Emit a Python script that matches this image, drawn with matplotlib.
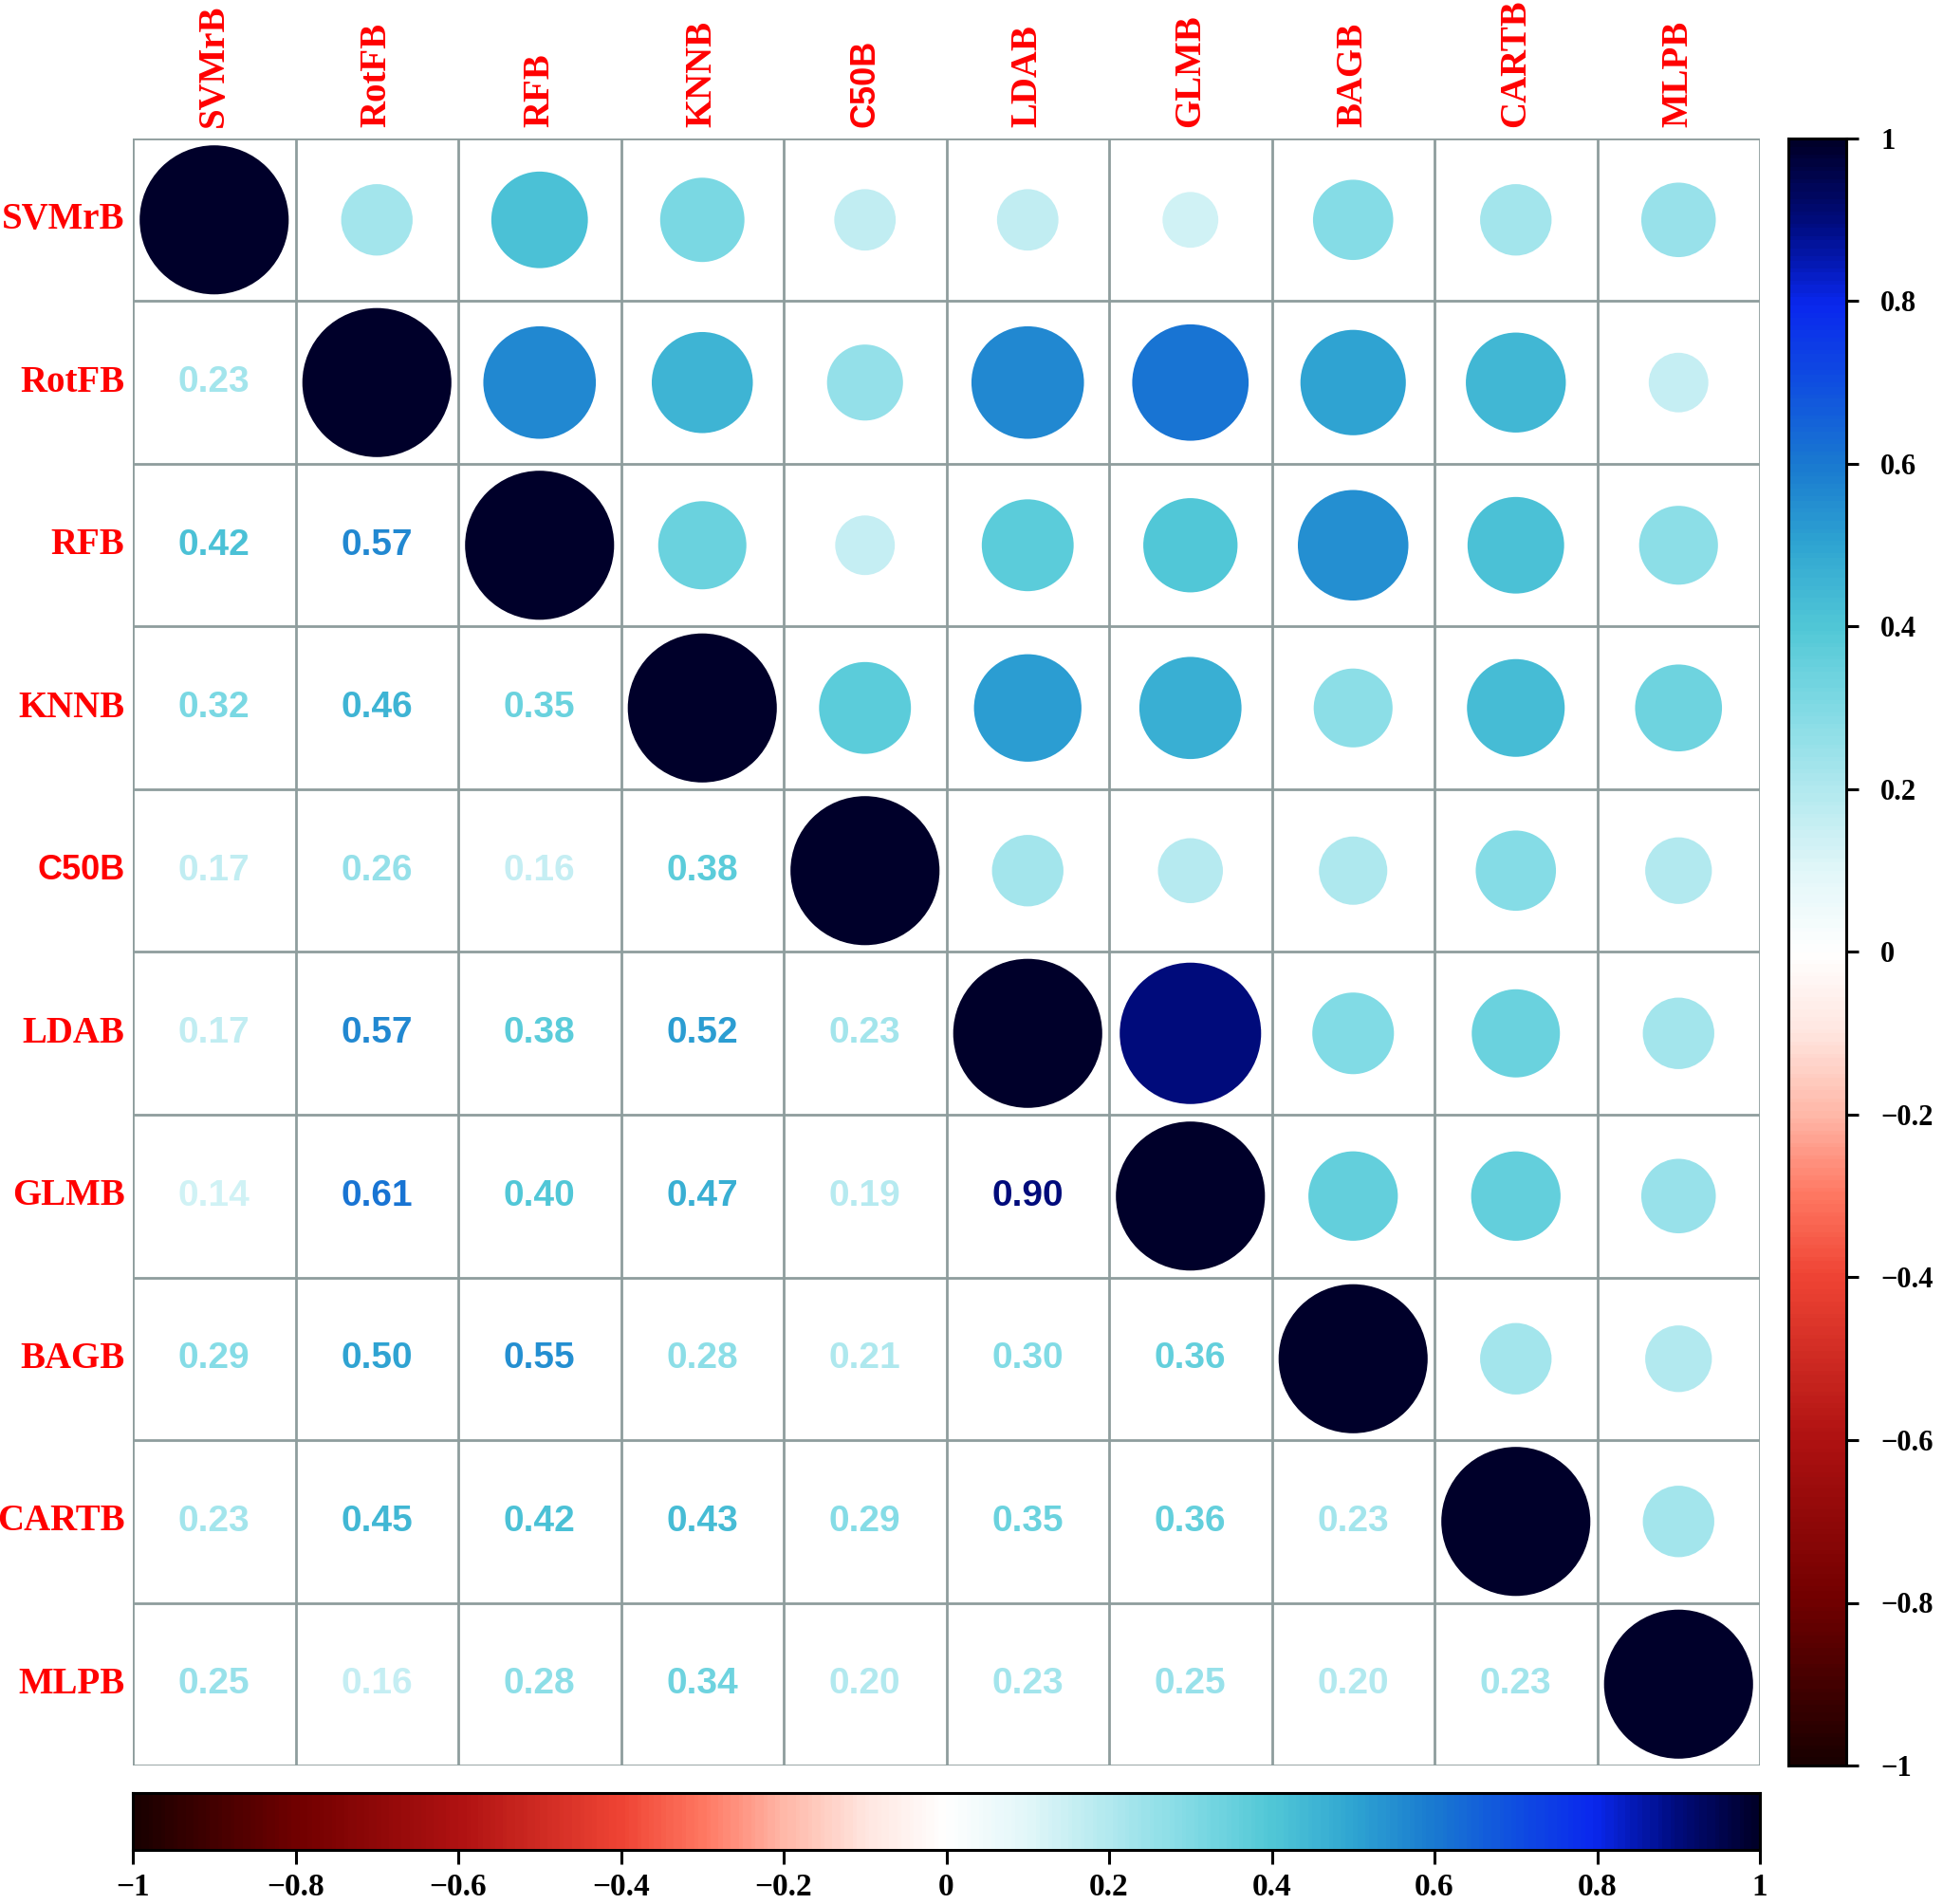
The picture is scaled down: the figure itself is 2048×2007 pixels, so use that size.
import numpy as np
import matplotlib
matplotlib.use("Agg")
import matplotlib.pyplot as plt
from matplotlib.colors import LinearSegmentedColormap
from matplotlib.patches import Circle

labels = ["SVMrB", "RotFB", "RFB", "KNNB", "C50B", "LDAB", "GLMB", "BAGB", "CARTB", "MLPB"]

# lower-triangle correlations, row by row
row_RotFB = [0.23]
row_RFB = [0.42, 0.57]
row_KNNB = [0.32, 0.46, 0.35]
row_C50B = [0.17, 0.26, 0.16, 0.38]
row_LDAB = [0.17, 0.57, 0.38, 0.52, 0.23]
row_GLMB = [0.14, 0.61, 0.40, 0.47, 0.19, 0.90]
row_BAGB = [0.29, 0.50, 0.55, 0.28, 0.21, 0.30, 0.36]
row_CARTB = [0.23, 0.45, 0.42, 0.43, 0.29, 0.35, 0.36, 0.23]
row_MLPB = [0.25, 0.16, 0.28, 0.34, 0.20, 0.23, 0.25, 0.20, 0.23]
lower_rows = [[], row_RotFB, row_RFB, row_KNNB, row_C50B, row_LDAB,
              row_GLMB, row_BAGB, row_CARTB, row_MLPB]

tick_values = [-1, -0.8, -0.6, -0.4, -0.2, 0, 0.2, 0.4, 0.6, 0.8, 1]
tick_labels = ["−1", "−0.8", "−0.6", "−0.4", "−0.2", "0", "0.2", "0.4", "0.6", "0.8", "1"]

n = len(labels)
M = np.eye(n)
for i, row in enumerate(lower_rows):
    for j, v in enumerate(row):
        M[i, j] = v
        M[j, i] = v

anchor_pos = [-1.0, -0.8, -0.6, -0.4, -0.3, -0.2, -0.1, 0.0, 0.1, 0.2, 0.3, 0.4, 0.5, 0.6, 0.7, 0.8, 0.9, 1.0]
anchor_col = ["#1a0000", "#720000", "#b01212", "#f04535", "#ff7862", "#ffb8a8", "#ffe6e0",
              "#ffffff", "#e2f7f9", "#b2e9ef", "#82dbe5", "#52c8d7", "#30a6d2", "#1a7bd0",
              "#1050e0", "#0a28ee", "#000c80", "#00002a"]
cmap = LinearSegmentedColormap.from_list(
    "corr", list(zip([(p + 1) / 2 for p in anchor_pos], anchor_col)))

def col(v):
    return cmap((v + 1) / 2)

W, H = 2048, 2007
fig = plt.figure(figsize=(W / 100, H / 100), dpi=100)

gl, gr, gt, gb = 140, 1855, 146, 1861
ax = fig.add_axes([gl / W, 1 - gb / H, (gr - gl) / W, (gb - gt) / H])
ax.set_xlim(0, n)
ax.set_ylim(n, 0)
ax.set_aspect("equal")
ax.axis("off")

grid_col = "#8e9d9d"
for k in range(n + 1):
    ax.plot([k, k], [0, n], color=grid_col, lw=2.0, zorder=1, solid_capstyle="projecting")
    ax.plot([0, n], [k, k], color=grid_col, lw=2.0, zorder=1, solid_capstyle="projecting")

num_font = ["Liberation Sans Narrow", "Liberation Sans", "DejaVu Sans"]
for i in range(n):
    for j in range(n):
        v = M[i, j]
        if j >= i:
            r = 0.458 * np.sqrt(abs(v))
            ax.add_patch(Circle((j + 0.5, i + 0.5), r, facecolor=col(v), edgecolor="none", zorder=2))
        else:
            ax.text(j + 0.5, i + 0.5, f"{v:.2f}", ha="center", va="center",
                    fontsize=28, fontweight="bold", color=col(v), family=num_font, zorder=3)

for k, lab in enumerate(labels):
    fam = ["Liberation Sans", "DejaVu Sans"] if lab == "C50B" else ["Liberation Serif", "DejaVu Serif"]
    fs = 26 if lab == "C50B" else 28
    ax.text(-0.05, k + 0.5, lab, ha="right", va="center", fontsize=fs,
            fontweight="bold", color="#ff0000", family=fam, clip_on=False)
    ax.text(k + 0.5, -0.07, lab, ha="center", va="bottom", rotation=90, fontsize=fs,
            fontweight="bold", color="#ff0000", family=fam, clip_on=False)

grad = np.linspace(-1, 1, 400)

# vertical colour bar
vl, vr = 1885, 1946
cax = fig.add_axes([vl / W, 1 - gb / H, (vr - vl) / W, (gb - gt) / H])
cax.imshow(grad[:, None], aspect="auto", cmap=cmap, vmin=-1, vmax=1,
           extent=[0, 1, -1, 1], origin="lower")
cax.set_xlim(0, 1)
cax.set_ylim(-1, 1)
cax.set_xticks([])
cax.yaxis.tick_right()
cax.set_yticks(tick_values)
cax.set_yticklabels(tick_labels)
cax.tick_params(axis="y", length=9, width=2.2, pad=17, labelsize=22)
for t in cax.get_yticklabels():
    t.set_fontfamily(["Liberation Serif", "DejaVu Serif"])
    t.set_fontweight("bold")
for s in cax.spines.values():
    s.set_linewidth(2.2)

# horizontal colour bar
ht, hb = 1890, 1950
hax = fig.add_axes([gl / W, 1 - hb / H, (gr - gl) / W, (hb - ht) / H])
hax.imshow(grad[None, :], aspect="auto", cmap=cmap, vmin=-1, vmax=1,
           extent=[-1, 1, 0, 1])
hax.set_xlim(-1, 1)
hax.set_ylim(0, 1)
hax.set_yticks([])
hax.set_xticks(tick_values)
hax.set_xticklabels(tick_labels)
hax.tick_params(axis="x", length=11, width=2.2, pad=6, labelsize=24)
for t in hax.get_xticklabels():
    t.set_fontfamily(["Liberation Serif", "DejaVu Serif"])
    t.set_fontweight("bold")
for s in hax.spines.values():
    s.set_linewidth(2.2)

fig.savefig("out.png", dpi=100, facecolor="white")
